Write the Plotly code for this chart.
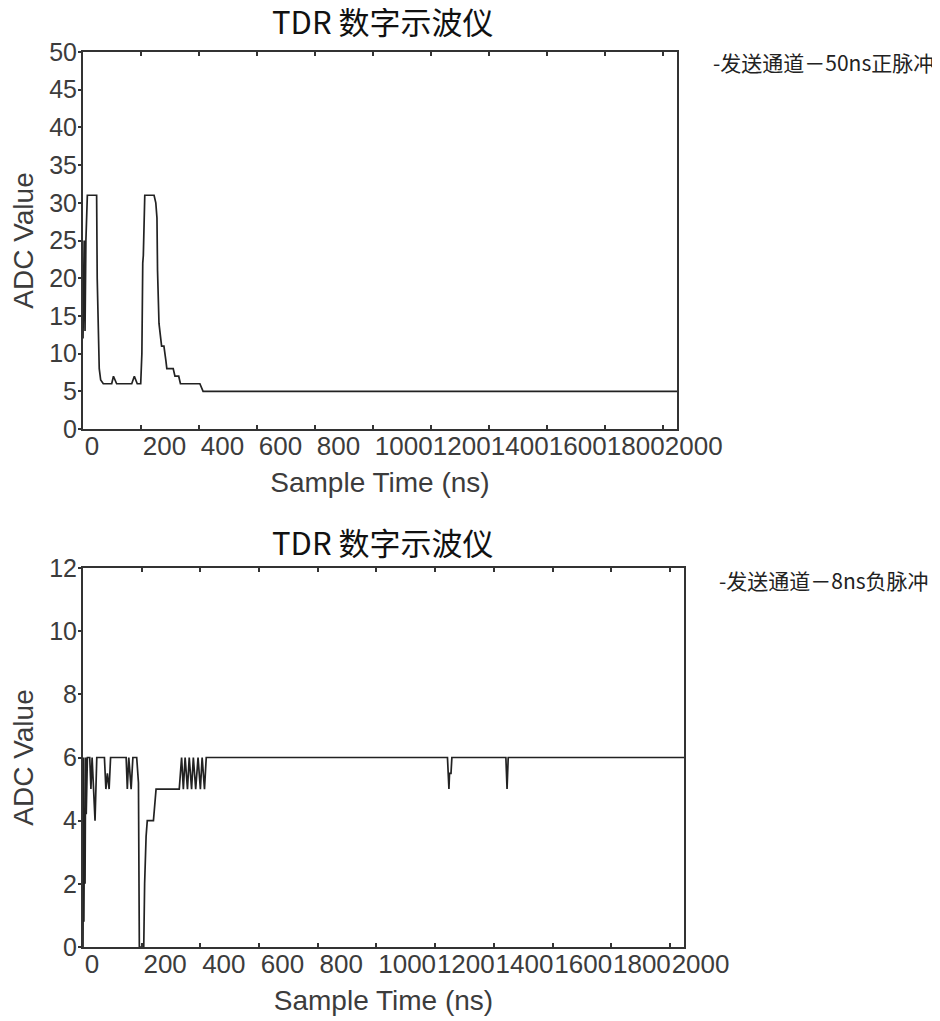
import plotly.graph_objects as go

# ---- data ----
title_text = "TDR 数字示波仪"
x_title = "Sample Time (ns)"
y_title = "ADC Value"
legend_top = "-发送通道－50ns正脉冲"
legend_bot = "-发送通道－8ns负脉冲"

x_tickvals = [0, 200, 400, 600, 800, 1000, 1200, 1400, 1600, 1800, 2000]
x_ticktext = ["0", "200", "400", "600", "800", "1000", "1200", "1400", "1600", "1800", "2000"]
x_range = [0, 2048]

top_yticks = [0, 5, 10, 15, 20, 25, 30, 35, 40, 45, 50]
top_yrange = [0, 50]
bot_yticks = [0, 2, 4, 6, 8, 10, 12]
bot_yrange = [0, 12]

# top: 50 ns positive pulse
t_top = [0, 4, 7, 10, 15, 47, 49, 56, 61, 70, 99, 105, 116, 168, 177, 187, 199,
         203, 206, 208, 213, 245, 251, 255, 257, 262, 271, 279, 286, 289, 311,
         317, 330, 336, 403, 414, 2048]
v_top = [12, 25, 13, 25, 31, 31, 20, 8, 6.5, 6, 6, 7, 6, 6, 7, 6, 6,
         10, 22, 23, 31, 31, 30, 28, 21, 14, 11, 11, 9, 8, 8,
         7, 7, 6, 6, 5, 5]

# bottom: 8 ns negative pulse
t_bot = [0, 2, 3, 5, 7, 9, 11, 15, 23, 27, 31, 35, 41, 47, 73, 78, 83, 89, 94,
         147, 151, 156, 164, 170, 183, 189, 192, 207, 210, 215, 219, 240, 249,
         328, 336, 342, 348, 356, 362, 370, 376, 384, 392, 400, 406, 414, 420,
         1242, 1244, 1247, 1249, 1254, 1257, 1441, 1443, 1445, 1447, 1449, 2048]
v_bot = [0, 6, 0.8, 4.2, 2, 6, 4.2, 6, 6, 5, 6, 5, 4, 6, 6, 5, 5.5, 5, 6,
         6, 5, 6, 5, 6, 6, 5.2, 0, 0, 2, 3.5, 4, 4, 5,
         5, 6, 5, 6, 5, 6, 5, 6, 5, 6, 5, 6, 5, 6,
         6, 5.5, 5, 5.5, 5.5, 6, 6, 5.5, 5, 5.5, 6, 6]

# ---- styling ----
OFF = 8  # page body margin
W, H = 940 - OFF, 1021 - OFF
LINE_C = "#222222"
AX_C = "#333333"
XTICK_FONT = dict(family="Liberation Sans, Arial, sans-serif", size=26, color="#3c3c3c")
YTICK_FONT = dict(family="Liberation Sans, Arial, sans-serif", size=25, color="#3c3c3c")
TITLE_FONT = dict(family="Liberation Sans, Arial, sans-serif", size=28, color="#3c3c3c")
CJK = "Noto Sans CJK SC, sans-serif"


def px(x):
    return (x - OFF) / W


def py(y):
    return 1 - (y - OFF) / H


fig = go.Figure()
fig.add_trace(go.Scatter(x=t_top, y=v_top, mode="lines", xaxis="x", yaxis="y",
                         line=dict(color=LINE_C, width=1.7), showlegend=False,
                         name=legend_top))
fig.add_trace(go.Scatter(x=t_bot, y=v_bot, mode="lines", xaxis="x2", yaxis="y2",
                         line=dict(color=LINE_C, width=1.7), showlegend=False,
                         name=legend_bot))


def xax(domain, anchor):
    return dict(domain=domain, anchor=anchor, range=x_range, tickvals=x_tickvals,
                ticktext=x_ticktext, ticks="inside", ticklen=4, tickwidth=1.5,
                tickcolor=AX_C, showline=True, linecolor=AX_C, linewidth=2,
                mirror="ticks", showgrid=False, zeroline=False, automargin=False,
                tickangle=0, ticklabelposition="outside right", ticklabelstandoff=-7,
                tickfont=XTICK_FONT,
                title=dict(text=x_title, font=TITLE_FONT, standoff=12))


def yax(domain, anchor, rng, ticks):
    return dict(domain=domain, anchor=anchor, range=rng, tickvals=ticks,
                ticks="outside", ticklen=3, tickwidth=1.5, tickcolor=AX_C,
                showline=True, linecolor=AX_C, linewidth=2, mirror=True,
                showgrid=False, zeroline=False, automargin=False, tickfont=YTICK_FONT,
                ticklabelstandoff=-4,
                title=dict(text=y_title, font=TITLE_FONT, standoff=10))


fig.update_layout(
    width=W, height=H, autosize=False,
    margin=dict(l=0, r=0, t=0, b=0),
    paper_bgcolor="white", plot_bgcolor="white",
    xaxis=xax([px(83), px(677)], "y"),
    yaxis=yax([py(429), py(52)], "x", top_yrange, top_yticks),
    xaxis2=xax([px(83), px(684)], "y2"),
    yaxis2=yax([py(947), py(568)], "x2", bot_yrange, bot_yticks),
    showlegend=False,
)

for yc in (21, 541):
    fig.add_annotation(xref="paper", yref="paper", x=px(383), y=py(yc), text=title_text,
                       showarrow=False, xanchor="center", yanchor="middle",
                       font=dict(family=CJK, size=31, color="#111111"))

fig.add_annotation(xref="paper", yref="paper", x=px(711), y=py(62), text=legend_top,
                   showarrow=False, xanchor="left", yanchor="middle",
                   font=dict(family=CJK, size=21, color="#222222"))
fig.add_annotation(xref="paper", yref="paper", x=px(717), y=py(580), text=legend_bot,
                   showarrow=False, xanchor="left", yanchor="middle",
                   font=dict(family=CJK, size=21, color="#222222"))

fig.write_html("out.html")
